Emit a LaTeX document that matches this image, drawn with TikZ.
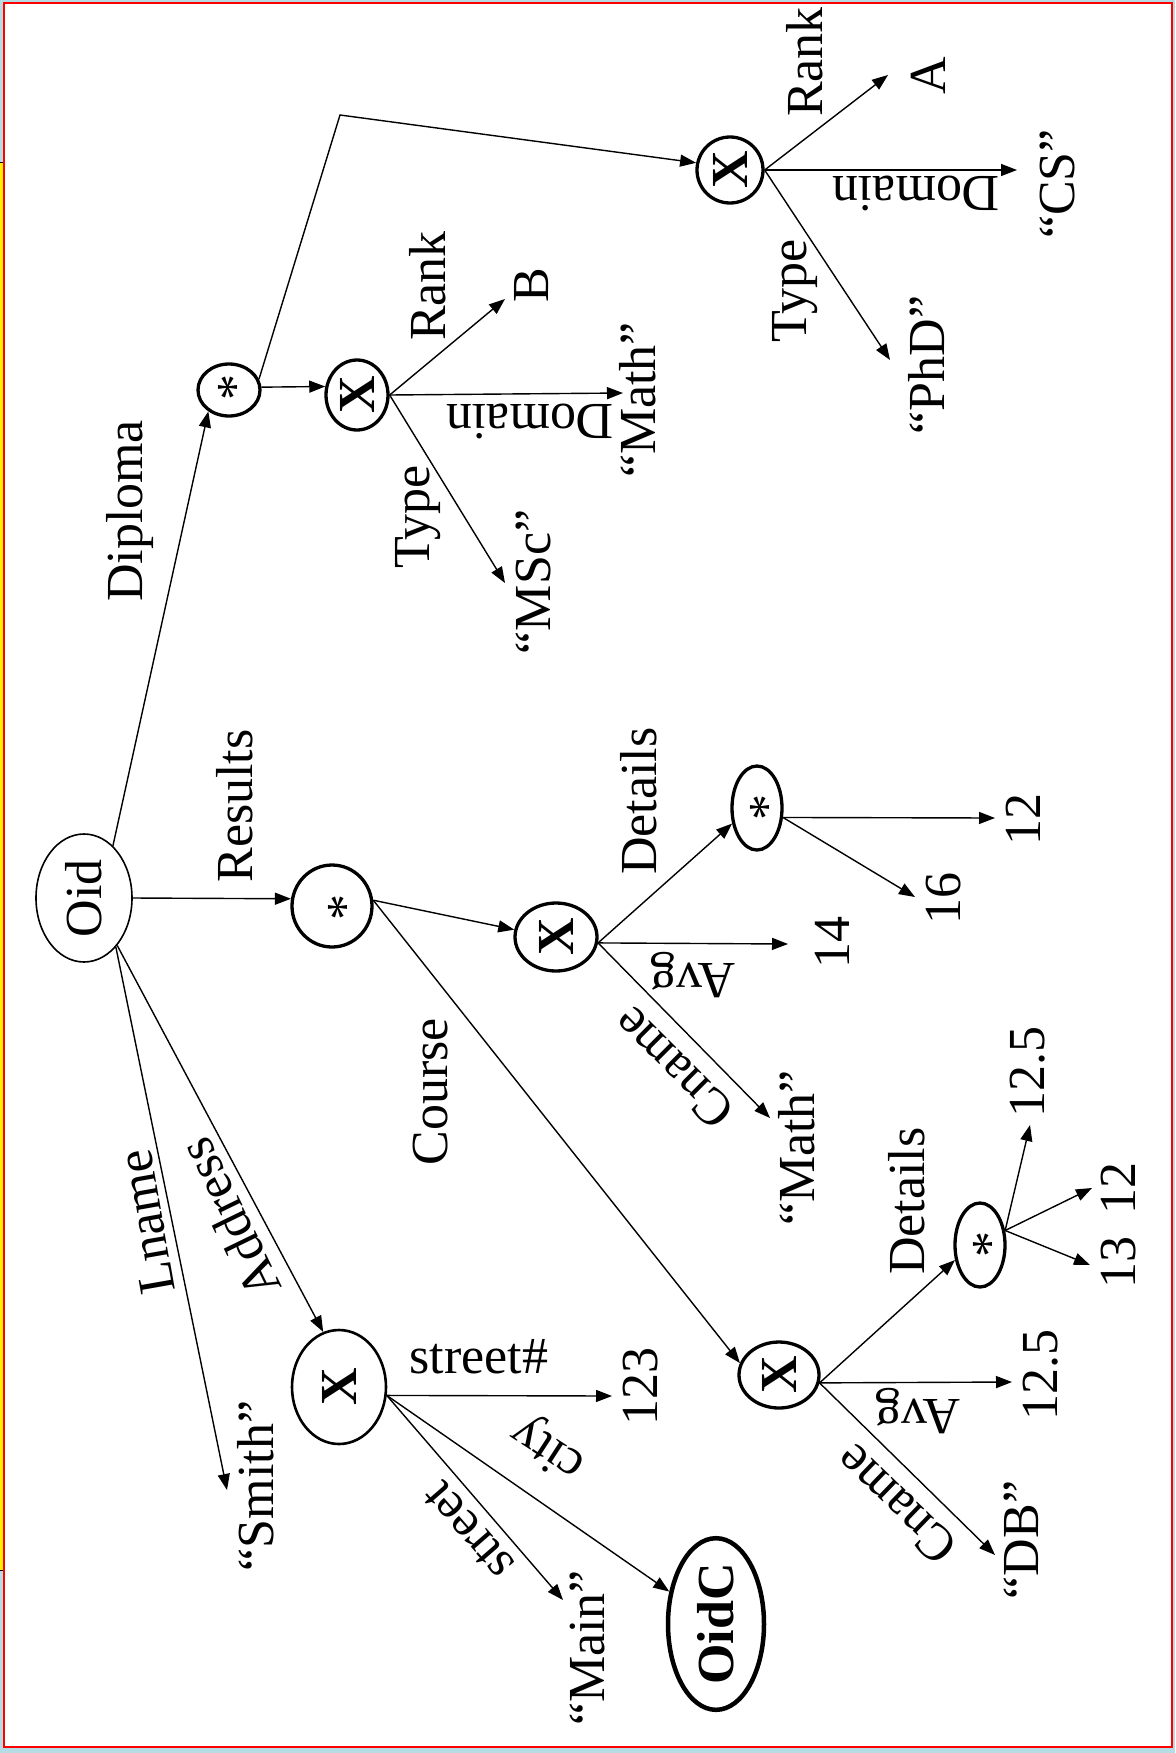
\documentclass[tikz,border=0pt]{standalone}
\usepackage{fontspec}
\setmainfont{Liberation Serif}
\usepackage{graphicx}
\usetikzlibrary{arrows.meta,shapes.geometric}
\definecolor{bgblue}{HTML}{B5DCE4}
\begin{document}
\begin{tikzpicture}[x=1pt,y=-1pt,
  every node/.style={font=\fontsize{52}{62}\selectfont},
  lbl/.style={inner sep=0pt, text height=34pt, text depth=0pt},
  vlbl/.style={lbl, rotate=90},
  ulbl/.style={lbl, rotate=180},
  ast/.style={lbl, rotate=90},
  shp/.style={ellipse, draw, inner sep=0pt, line width=3.3pt},
  arr/.style={line width=1.4pt, -{Triangle[length=16pt,width=12pt]}},
  ln/.style={line width=1.4pt},
]
\useasboundingbox (0,0) rectangle (1175,1753);
\fill[bgblue] (0,0) rectangle (1175,1753);
\draw[black, line width=0.8pt, fill=yellow] (-2,162) rectangle (5,1570);
\draw[red, line width=2pt, fill=white] (4,3) rectangle (1172,1747);

% shape nodes
\node[shp, line width=1.6pt, minimum width=96pt, minimum height=128pt] (oid) at (84,898) {\rotatebox{90}{Oid}};
\node[shp, minimum width=80pt, minimum height=82pt] (rs) at (332,906) {};
\node[shp, minimum width=62pt, minimum height=52pt] (ds) at (229,390) {};
\node[shp, minimum width=62pt, minimum height=70pt] (x1) at (357,395) {\rotatebox{90}{\textbf{X}}};
\node[shp, minimum width=66pt, minimum height=66pt] (x2) at (730,170) {\rotatebox{90}{\textbf{X}}};
\node[shp, minimum width=82pt, minimum height=68pt] (x3) at (556,937) {\rotatebox{90}{\textbf{X}}};
\node[shp, minimum width=80pt, minimum height=66pt] (x4) at (779,1375) {\rotatebox{90}{\textbf{X}}};
\node[shp, line width=2.6pt, minimum width=94pt, minimum height=114pt] (x5) at (339,1387) {\rotatebox{90}{\textbf{X}}};
\node[shp, minimum width=50pt, minimum height=84pt] (d1) at (757,808) {};
\node[shp, minimum width=50pt, minimum height=84pt] (d2) at (980,1245) {};
\node[shp, line width=4.5pt, minimum width=96pt, minimum height=152pt] (oidc) at (716,1624) {\rotatebox{90}{\textbf{OidC}}};

% asterisks
\node[ast] (rsa) at (345,907) {*};
\node[ast] (dsa) at (235,387) {*};
\node[ast] (d1a) at (767,807) {*};
\node[ast] (d2a) at (990,1244) {*};

% leaf texts
\node[vlbl] (B) at (531,285) {B};
\node[vlbl] (math1) at (638,400) {“Math”};
\node[vlbl] (msc) at (533,582) {“MSc”};
\node[vlbl] (A) at (928,76) {A};
\node[vlbl] (cs) at (1057,184) {“CS”};
\node[vlbl] (phd) at (927,365) {“PhD”};
\node[vlbl] (n14) at (832,942) {14};
\node[vlbl] (n12a) at (1023,819) {12};
\node[vlbl] (n16) at (943,898) {16};
\node[vlbl] (math2) at (797,1148) {“Math”};
\node[vlbl] (n125a) at (1040,1375) {12.5};
\node[vlbl] (db) at (1021,1540) {“DB”};
\node[vlbl] (n125b) at (1027,1072) {12.5};
\node[vlbl] (n12b) at (1118,1188) {12};
\node[vlbl] (n13) at (1118,1262) {13};
\node[vlbl] (smith) at (256,1486) {“Smith”};
\node[vlbl] (n123) at (640,1386) {123};
\node[vlbl] (main) at (587,1648) {“Main”};

% edge labels
\node[vlbl] (lResults) at (235,806) {Results};
\node[vlbl] (lDiploma) at (125,511) {Diploma};
\node[vlbl] (lCourse) at (430,1092) {Course};
\node[lbl, rotate=100] (lLname) at (146,1222) {Lname};
\node[lbl, rotate=116] (lAddress) at (230,1218) {Address};
\node[vlbl] (lRank1) at (428,286) {Rank};
\node[ulbl] (lDomain1) at (530,421) {Domain};
\node[vlbl] (lType1) at (412,517) {Type};
\node[vlbl] (lRank2) at (805,62) {Rank};
\node[ulbl] (lDomain2) at (916,193) {Domain};
\node[vlbl] (lType2) at (789,291) {Type};
\node[vlbl] (lDetails1) at (639,801) {Details};
\node[ulbl] (lAvg1) at (693,980) {Avg};
\node[lbl, rotate=135] (lCname1) at (673,1068) {Cname};
\node[vlbl] (lDetails2) at (907,1201) {Details};
\node[ulbl] (lAvg2) at (918,1416) {Avg};
\node[lbl, rotate=136] (lCname2) at (896,1505) {Cname};
\node[lbl] (lStreetNo) at (479,1356) {street\#};
\node[lbl, rotate=147] (lCity) at (546,1452) {city};
\node[lbl, rotate=131] (lStreet) at (467,1532) {street};

% arrow tip coordinates
\coordinate (corner) at (340,115);
\coordinate (tB) at (505,299);
\coordinate (tMath1) at (623,393);
\coordinate (tMSc) at (505,583);
\coordinate (tA) at (888,75);
\coordinate (tCS) at (1017,170);
\coordinate (tPhD) at (890,360);
\coordinate (t14) at (788,944);
\coordinate (t12a) at (995,818);
\coordinate (t16) at (915,897);
\coordinate (tMath2) at (770,1118);
\coordinate (t125a) at (1012,1382);
\coordinate (tDB) at (995,1555);
\coordinate (t125b) at (1030,1125);
\coordinate (t12b) at (1092,1188);
\coordinate (t13) at (1090,1265);
\coordinate (tSmith) at (227,1490);
\coordinate (t123) at (612,1396);
\coordinate (tMain) at (563,1600);

% connectors
\draw[arr] (oid.east) -- (rs.170);
\draw[arr] (oid.61) -- (ds.-134);
\draw[arr] (oid.-57) -- (tSmith);
\draw[arr] (oid.-55) -- (x5.106);
\draw[arr] (ds.5) -- (x1.165);
\draw[arr] (ds.20) -- (corner) -- (x2.168);
\draw[arr] (x1.east) -- (tB);
\draw[arr] (x1.east) -- (tMath1);
\draw[arr] (x1.east) -- (tMSc);
\draw[arr] (x2.east) -- (tA);
\draw[arr] (x2.east) -- (tCS);
\draw[arr] (x2.east) -- (tPhD);
\draw[arr] (rs.8) -- (x3.170);
\draw[arr] (rs.8) -- (x4.163);
\draw[arr] (x3.-8) -- (d1.212);
\draw[arr] (x3.-8) -- (t14);
\draw[arr] (x3.-8) -- (tMath2);
\draw[arr] (d1.-20) -- (t12a);
\draw[arr] (d1.-20) -- (t16);
\draw[arr] (x4.-11) -- (d2.211);
\draw[arr] (x4.-11) -- (t125a);
\draw[arr] (x4.-11) -- (tDB);
\draw[arr] (d2.30) -- (t125b);
\draw[arr] (d2.30) -- (t12b);
\draw[arr] (d2.30) -- (t13);
\draw[arr] (x5.-10) -- (t123);
\draw[arr] (x5.-10) -- (tMain);
\draw[arr] (x5.-10) -- (oidc);
\end{tikzpicture}
\end{document}
